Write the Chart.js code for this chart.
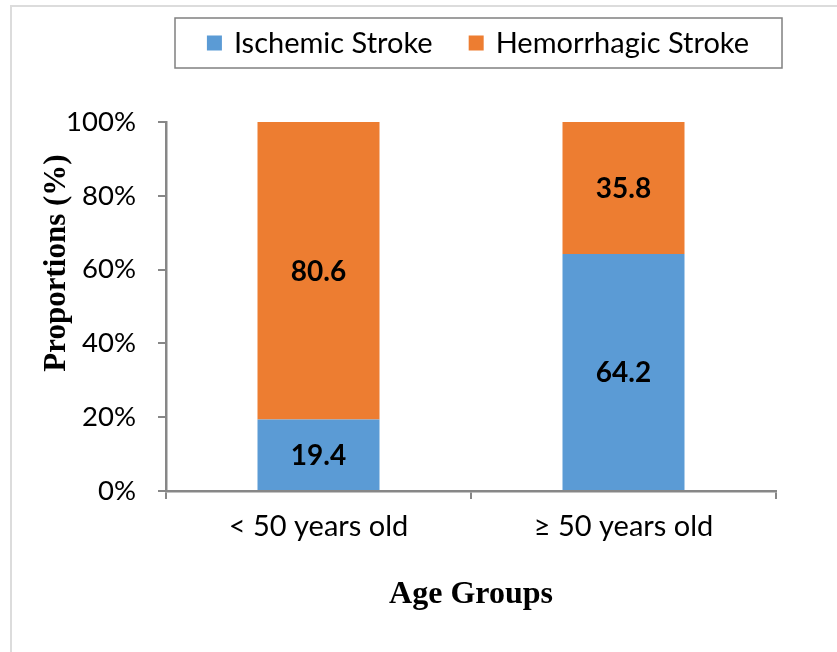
<!DOCTYPE html>
<html>
<head>
<meta charset="utf-8">
<script src="https://cdn.jsdelivr.net/npm/chart.js@4"></script>
<style>
  body { margin: 0; background: #fff; }
  #wrap { position: relative; width: 837px; height: 652px; }
  #frame { position: absolute; left: 10px; top: 5px; right: 0; bottom: 0;
           border-top: 2px solid #dcdcdc; border-left: 2px solid #dcdcdc; }
  canvas { position: absolute; left: 0; top: 0; }
</style>
</head>
<body>
<div id="wrap">
  <div id="frame"></div>
  <canvas id="chart" width="837" height="652"></canvas>
</div>
<script>
const ageGroups = ['< 50 years old', '\u2265 50 years old'];
const ischemic = [19.4, 64.2];
const hemorrhagic = [80.6, 35.8];
const seriesNames = ['Ischemic Stroke', 'Hemorrhagic Stroke'];
const seriesColors = ['#5B9BD5', '#ED7D31'];
const yTitle = 'Proportions (%)';

const axisGray = '#878787';

// value labels in the middle of each segment
const segmentLabels = {
  id: 'segmentLabels',
  afterDatasetsDraw(chart) {
    const ctx = chart.ctx;
    ctx.save();
    ctx.font = 'bold 28px Lato';
    ctx.fillStyle = '#000';
    ctx.textAlign = 'center';
    ctx.textBaseline = 'middle';
    chart.data.datasets.forEach((ds, i) => {
      chart.getDatasetMeta(i).data.forEach((bar, j) => {
        const mid = (bar.y + bar.base) / 2;
        ctx.fillText(ds.data[j].toFixed(1), bar.x, mid + 1);
      });
    });
    ctx.restore();
  }
};

// boxed legend + y title sitting a bit above the axis middle, as in the original
const boxLegend = {
  id: 'boxLegend',
  afterDraw(chart) {
    const ctx = chart.ctx;
    ctx.save();
    ctx.font = '29px Lato';
    ctx.textBaseline = 'middle';
    const sq = 15, gap = 12, between = 36;
    const widths = chart.data.datasets.map(d => ctx.measureText(d.label).width);
    let total = 0;
    widths.forEach((w, i) => { total += sq + gap + w + (i ? between : 0); });
    const cx = 478, cy = 43;
    ctx.strokeStyle = '#808080';
    ctx.lineWidth = 1.5;
    ctx.strokeRect(175, 18, 607, 50);
    let x = cx - total / 2;
    chart.data.datasets.forEach((d, i) => {
      ctx.fillStyle = d.backgroundColor;
      ctx.fillRect(x, cy - sq / 2, sq, sq);
      ctx.fillStyle = '#000';
      ctx.fillText(d.label, x + sq + gap, cy + 1);
      x += sq + gap + widths[i] + between;
    });

    ctx.translate(57, 263);
    ctx.rotate(-Math.PI / 2);
    ctx.font = 'bold 31px "Liberation Serif"';
    ctx.textAlign = 'center';
    ctx.fillText(yTitle, 0, 0);
    ctx.restore();
  }
};

new Chart(document.getElementById('chart'), {
  type: 'bar',
  data: {
    labels: ageGroups,
    datasets: [
      { label: seriesNames[0], data: ischemic, backgroundColor: seriesColors[0] },
      { label: seriesNames[1], data: hemorrhagic, backgroundColor: seriesColors[1] }
    ]
  },
  options: {
    responsive: false,
    animation: false,
    layout: { padding: { left: 10, right: 61, top: 122, bottom: 0 } },
    datasets: { bar: { categoryPercentage: 1, barPercentage: 0.4 } },
    plugins: { legend: { display: false }, tooltip: { enabled: false } },
    scales: {
      x: {
        stacked: true,
        afterFit: s => { s.height = 652 - 491; },
        grid: { drawOnChartArea: false, color: axisGray, lineWidth: 2, tickLength: 8, offset: true },
        border: { color: axisGray, width: 2.5 },
        ticks: { color: '#000', font: { family: 'Lato', size: 29 }, padding: 10 },
        title: { display: true, text: 'Age Groups', color: '#000', align: 'center',
                 font: { family: 'Liberation Serif', size: 32, weight: 'bold' },
                 padding: { top: 0, bottom: 38 } }
      },
      y: {
        stacked: true,
        min: 0, max: 100,
        afterFit: s => { s.width = 156; },
        grid: { drawOnChartArea: false, color: axisGray, lineWidth: 2, tickLength: 8 },
        border: { color: axisGray, width: 2.5 },
        ticks: { stepSize: 20, color: '#000', font: { family: 'Lato', size: 27.5 }, padding: 22,
                 callback: v => v + '%' }
      }
    }
  },
  plugins: [segmentLabels, boxLegend]
});
</script>
</body>
</html>
